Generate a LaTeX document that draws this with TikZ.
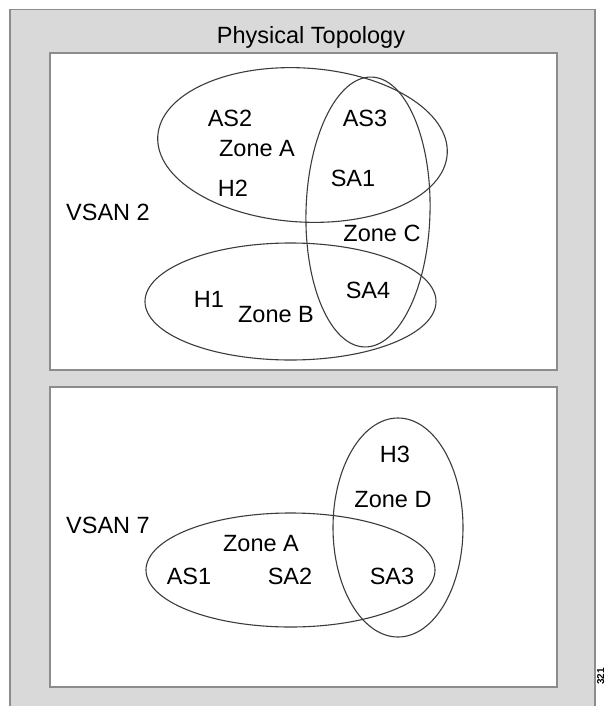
\documentclass[tikz,border=0pt]{standalone}
\usepackage{fontspec}
\setmainfont{Liberation Sans}
\definecolor{panelgray}{RGB}{217,217,217}
\definecolor{edgegray}{RGB}{140,140,140}
\definecolor{zoneline}{RGB}{60,60,60}
\begin{document}
\begin{tikzpicture}[x=1pt, y=-1pt,
    lbl/.style={inner sep=0pt, font=\fontsize{23.5}{27}\selectfont},
    zone/.style={draw=zoneline, line width=1.1pt},
    panel/.style={draw=edgegray, line width=1.8pt, fill=white}]
    \useasboundingbox (0, 0) rectangle (605, 706);
    \draw[draw=edgegray, line width=1.8pt, fill=panelgray] (10, 9.5) rectangle (595, 720);
    \node[lbl] (title) at (311, 37) {Physical Topology};

    % VSAN 2
    \draw[panel] (50, 53) rectangle (557, 370);
    \node[lbl] (vsan2) at (108, 212) {VSAN 2};
    \draw[zone, rotate around={-3.5:(302.5, 145)}] (302.5, 145) ellipse [x radius=145, y radius=77];
    \draw[zone, rotate around={-1.5:(368, 212)}] (368, 212) ellipse [x radius=62, y radius=135];
    \draw[zone] (290.5, 301.5) ellipse [x radius=145.5, y radius=58.5];
    \node[lbl] (as2) at (230, 118) {AS2};
    \node[lbl] (as3) at (365, 118) {AS3};
    \node[lbl] (zoneA) at (257, 149) {Zone A};
    \node[lbl] (sa1) at (353, 178) {SA1};
    \node[lbl] (h2) at (233, 188) {H2};
    \node[lbl] (zoneC) at (382, 233) {Zone C};
    \node[lbl] (sa4) at (368, 290) {SA4};
    \node[lbl] (h1) at (209, 299) {H1};
    \node[lbl] (zoneB) at (276, 315) {Zone B};

    % VSAN 7
    \draw[panel] (50, 387) rectangle (557, 687);
    \node[lbl] (vsan7) at (108, 525) {VSAN 7};
    \draw[zone] (290.5, 570) ellipse [x radius=144.5, y radius=57];
    \draw[zone] (398, 527.5) ellipse [x radius=65, y radius=109.5];
    \node[lbl] (h3) at (395, 454) {H3};
    \node[lbl] (zoneD) at (393, 500) {Zone D};
    \node[lbl] (zoneA7) at (261, 544) {Zone A};
    \node[lbl] (as1) at (189, 576) {AS1};
    \node[lbl] (sa2) at (290, 576) {SA2};
    \node[lbl] (sa3) at (392, 576) {SA3};

    \node[inner sep=0pt, rotate=90, anchor=north east, font=\fontsize{10}{11}\selectfont\bfseries] (fignum) at (597, 668) {321};
\end{tikzpicture}
\end{document}
